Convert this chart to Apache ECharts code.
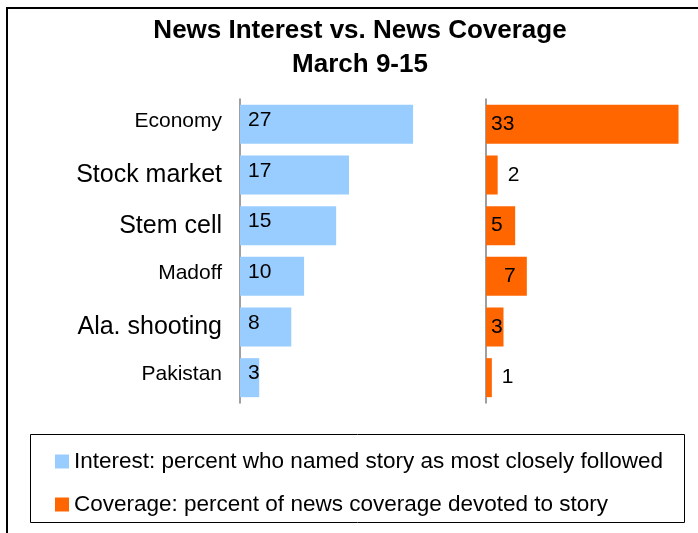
<!DOCTYPE html>
<html>
<head>
<meta charset="utf-8">
<script src="https://cdn.jsdelivr.net/npm/echarts@6/dist/echarts.min.js"></script>
<style>
  html, body { margin: 0; padding: 0; background: #fff; }
  #chart { width: 698px; height: 533px; }
</style>
</head>
<body>
<div id="chart"></div>
<script>
// stories, top to bottom
const stories = ['Economy', 'Stock market', 'Stem cell', 'Madoff', 'Ala. shooting', 'Pakistan']
// which labels are drawn in the smaller face
const smallLabels = ['Economy', 'Madoff', 'Pakistan']
const interest = [27, 17, 15, 10, 8, 3]
const coverage = [33, 2, 5, 7, 3, 1]
const legendNames = [
  'Interest: percent who named story as most closely followed',
  'Coverage: percent of news coverage devoted to story'
]

const font = 'Liberation Sans, Arial, sans-serif'
const myChart = echarts.init(document.getElementById('chart'))

const gridTop = 99
const gridHeight = 304

myChart.setOption({
  animation: false,
  textStyle: { fontFamily: font },
  title: {
    text: 'News Interest vs. News Coverage\nMarch 9-15',
    left: 355,
    textAlign: 'center',
    top: 9,
    textStyle: {
      fontSize: 26,
      fontWeight: 'bold',
      color: '#000',
      lineHeight: 34,
      fontFamily: font
    }
  },
  graphic: [
    {
      type: 'rect',
      shape: { x: 7, y: 8, width: 720, height: 560 },
      style: { fill: 'none', stroke: '#000', lineWidth: 2 },
      silent: true
    },
    {
      type: 'rect',
      shape: { x: 30.5, y: 434.5, width: 654, height: 88 },
      style: { fill: 'none', stroke: '#000', lineWidth: 1 },
      silent: true
    }
  ],
  legend: {
    orient: 'vertical',
    left: 50,
    top: 445,
    itemGap: 20,
    itemWidth: 14,
    itemHeight: 14,
    icon: 'rect',
    textStyle: { fontSize: 22.5, color: '#000', fontFamily: font },
    data: legendNames
  },
  grid: [
    { left: 240, top: gridTop, width: 192.3, height: gridHeight },
    { left: 486, top: gridTop, width: 204.2, height: gridHeight }
  ],
  xAxis: [
    { gridIndex: 0, type: 'value', min: 0, max: 30, show: false },
    { gridIndex: 1, type: 'value', min: 0, max: 35, show: false }
  ],
  yAxis: [
    {
      gridIndex: 0,
      type: 'category',
      inverse: true,
      data: stories,
      axisTick: { show: false },
      axisLine: { lineStyle: { color: '#7f7f7f', width: 1.5 } },
      axisLabel: {
        margin: 18,
        formatter: v => smallLabels.includes(v) ? '{s|' + v + '}' : '{b|' + v + '}',
        rich: {
          s: { fontSize: 21, color: '#000', fontFamily: font, padding: [0, 0, 6, 0] },
          b: { fontSize: 25, color: '#000', fontFamily: font }
        }
      }
    },
    {
      gridIndex: 1,
      type: 'category',
      inverse: true,
      data: stories,
      axisTick: { show: false },
      axisLabel: { show: false },
      axisLine: { lineStyle: { color: '#7f7f7f', width: 1.5 } }
    }
  ],
  series: [
    {
      name: legendNames[0],
      type: 'bar',
      xAxisIndex: 0,
      yAxisIndex: 0,
      barWidth: 39,
      itemStyle: { color: '#99ccff' },
      label: {
        show: true,
        position: 'insideLeft',
        distance: 8,
        offset: [0, -4],
        fontSize: 21,
        color: '#000',
        fontFamily: font
      },
      data: interest
    },
    {
      name: legendNames[1],
      type: 'bar',
      xAxisIndex: 1,
      yAxisIndex: 1,
      barWidth: 39,
      itemStyle: { color: '#ff6600' },
      data: coverage.map(v => ({
        value: v,
        label: {
          show: true,
          position: v <= 2 ? 'right' : 'insideLeft',
          distance: v <= 2 ? 10 : (v === 7 ? 18 : 5),
          fontSize: 21,
          color: '#000',
          fontFamily: font
        }
      }))
    }
  ]
})
</script>
</body>
</html>
